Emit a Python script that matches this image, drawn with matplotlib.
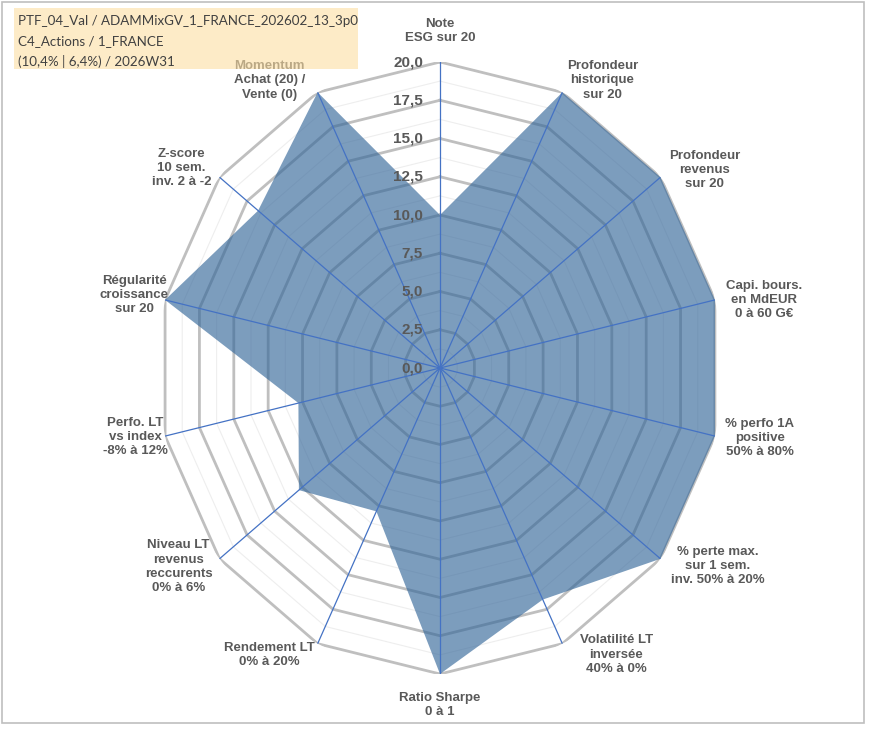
import numpy as np
import matplotlib
matplotlib.use("Agg")
import matplotlib.pyplot as plt
from matplotlib.patches import Rectangle

# --- data ---------------------------------------------------------------
criteria = [
    "Note\nESG sur 20",
    "Profondeur\nhistorique\nsur 20",
    "Profondeur\nrevenus\nsur 20",
    "Capi. bours.\nen MdEUR\n0 à 60 G€",
    "% perfo 1A\npositive\n50% à 80%",
    "% perte max.\nsur 1 sem.\ninv. 50% à 20%",
    "Volatilité LT\ninversée\n40% à 0%",
    "Ratio Sharpe\n0 à 1",
    "Rendement LT\n0% à 20%",
    "Niveau LT\nrevenus\nreccurents\n0% à 6%",
    "Perfo. LT\nvs index\n-8% à 12%",
    "Régularité\ncroissance\nsur 20",
    "Z-score\n10 sem.\ninv. 2 à -2",
    "Momentum\nAchat (20) /\nVente (0)",
]
scores = [10.0, 20.0, 20.0, 20.0, 20.0, 20.0, 16.8, 20.0, 10.4, 12.8, 10.3, 20.0, 16.5, 20.0]
r_ticks = [0.0, 2.5, 5.0, 7.5, 10.0, 12.5, 15.0, 17.5, 20.0]
title_lines = [
    "PTF_04_Val / ADAMMixGV_1_FRANCE_202602_13_3p0",
    "C4_Actions / 1_FRANCE",
    "(10,4% | 6,4%) / 2026W31",
]

# --- layout (pixel offsets of each criterion label from its spoke end) ---
label_offsets = [
    (0, 31), (40, 12), (44, 7), (49, 0), (45, -2), (57, -7), (54, -11),
    (0, -31), (-48, -11), (-41, -8), (-30, -1), (-31, 5), (-38, 9), (-48, 12),
]

W, H = 875, 729
fig = plt.figure(figsize=(W / 100, H / 100), dpi=100)
cx, cy, rx, ry = 440, 368, 282, 306
ax = fig.add_axes([(cx - rx) / W, (H - cy - ry) / H, 2 * rx / W, 2 * ry / H],
                  projection="polar")
ax.set_aspect("auto")
ax.set_theta_zero_location("N")
ax.set_theta_direction(-1)
ax.set_ylim(0, 20)
ax.grid(False)
ax.set_xticks([])
ax.set_yticks([])
ax.spines["polar"].set_visible(False)
ax.patch.set_alpha(0)

n = len(criteria)
theta = np.arange(n) * 2 * np.pi / n
closed_t = np.append(theta, theta[0])

# polygon grid
for level in np.arange(1.25, 20.01, 1.25):
    major = abs(level / 2.5 - round(level / 2.5)) < 1e-6
    ax.plot(closed_t, np.full(n + 1, level),
            color="#BFBFBF" if major else "#EEEEEE",
            lw=2.0 if major else 0.8, zorder=1, solid_joinstyle="miter")

# series
ax.fill(closed_t, np.append(scores, scores[0]), color="#336699", alpha=0.64,
        lw=0, zorder=2)

# spokes
for t in theta:
    ax.plot([t, t], [0, 20], color="#4472C4", lw=0.9, zorder=3)

# radial tick labels
for v in r_ticks:
    ax.annotate(f"{v:.1f}".replace(".", ","), xy=(0, v), xytext=(-17, 0),
                textcoords="offset pixels", ha="right", va="center",
                fontsize=11, fontweight="bold", color="#595959",
                family="Liberation Sans", zorder=4)

# criterion labels
for t, lab, (dx, dy) in zip(theta, criteria, label_offsets):
    ax.annotate(lab, xy=(t, 20), xytext=(dx, dy), textcoords="offset pixels",
                ha="center", va="center", multialignment="center",
                fontsize=9.5, fontweight="bold", color="#595959",
                family="Liberation Sans", linespacing=1.25,
                annotation_clip=False, zorder=4)

# title box (semi-transparent, over the chart like the original)
fig.patches.append(Rectangle((14 / W, 1 - 69 / H), 344 / W, 61 / H,
                             transform=fig.transFigure, facecolor="#FCDEA3",
                             alpha=0.6, edgecolor="none", zorder=5))
for i, line in enumerate(title_lines):
    fig.text(18 / W, 1 - (21 + 20 * i) / H, line, ha="left", va="center",
             fontsize=9.6, color="#404040", family="Lato", zorder=6)

# chart frame
fig.patches.append(Rectangle((2 / W, 1 - 723 / H), 862 / W, 721 / H,
                             transform=fig.transFigure, facecolor="none",
                             edgecolor="#BFBFBF", lw=1.2, zorder=7))

fig.savefig("out.png", dpi=100)
